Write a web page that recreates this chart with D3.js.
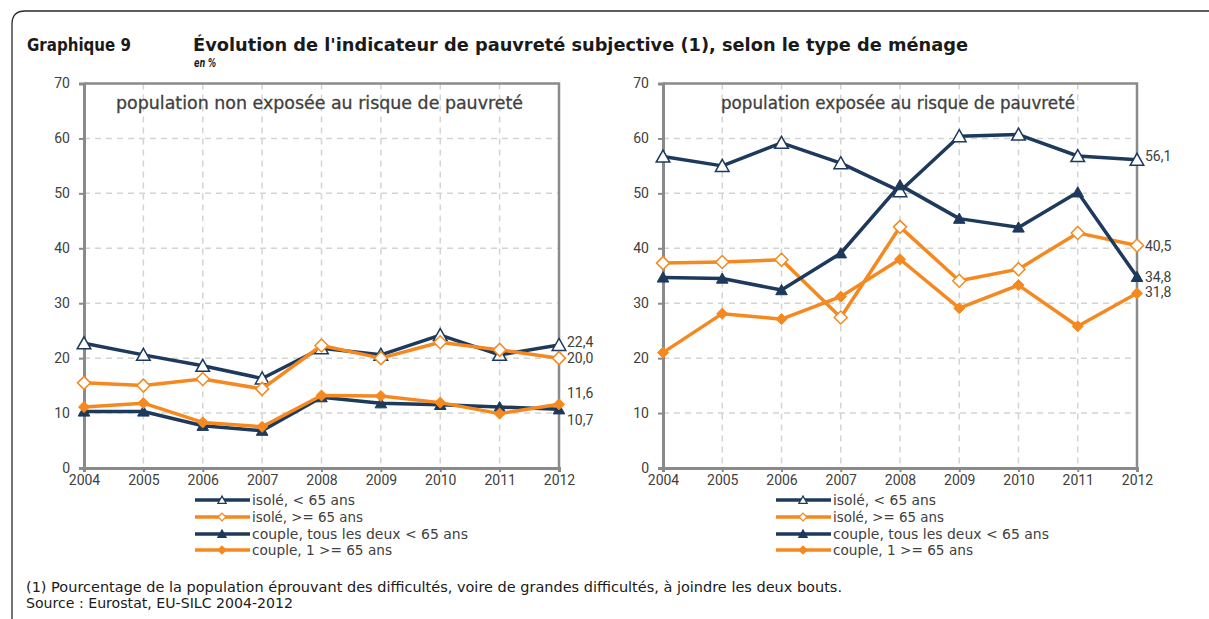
<!DOCTYPE html>
<html>
<head>
<meta charset="utf-8">
<script src="https://cdn.jsdelivr.net/npm/d3@7"></script>
<style>
  body { margin: 0; background: #fff; }
  svg { display: block; }
</style>
</head>
<body>
<svg id="chart"></svg>
<script>
// data
var years = [2004, 2005, 2006, 2007, 2008, 2009, 2010, 2011, 2012];
var seriesNames = ["isolé, < 65 ans", "isolé, >= 65 ans", "couple, tous les deux < 65 ans", "couple, 1 >= 65 ans"];
var yTicks = [0, 10, 20, 30, 40, 50, 60, 70];

var nonExposeIsoleJeune  = [22.7, 20.6, 18.6, 16.3, 21.8, 20.6, 24.2, 20.6, 22.4];
var nonExposeIsoleAge    = [15.5, 15.0, 16.2, 14.4, 22.3, 20.0, 22.9, 21.5, 20.0];
var nonExposeCoupleJeune = [10.3, 10.3, 7.7, 6.8, 12.9, 11.8, 11.5, 11.1, 10.7];
var nonExposeCoupleAge   = [11.1, 11.8, 8.3, 7.5, 13.2, 13.1, 11.9, 9.9, 11.6];

var exposeIsoleJeune  = [56.7, 55.0, 59.2, 55.5, 50.4, 60.4, 60.7, 56.8, 56.1];
var exposeIsoleAge    = [37.3, 37.5, 37.9, 27.4, 43.9, 34.1, 36.2, 42.8, 40.5];
var exposeCoupleJeune = [34.7, 34.5, 32.4, 39.1, 51.5, 45.4, 43.8, 50.2, 34.8];
var exposeCoupleAge   = [21.0, 28.1, 27.1, 31.2, 38.0, 29.1, 33.3, 25.8, 31.8];

var width = 1209, height = 619;
var navy = "#1d3a5c", orange = "#f5891f", textCol = "#404040";
var tickFont = "Roboto, 'Liberation Sans', sans-serif";
var textFont = "'DejaVu Sans', 'Noto Sans', sans-serif";

var svg = d3.select("#chart").attr("width", width).attr("height", height);

// give a text the width it has in the picture
function spanTo(sel, w) {
    sel.attr("textLength", w).attr("lengthAdjust", "spacingAndGlyphs");
}

// outer frame with rounded corner
svg.append("path")
    .attr("d", "M12,620 L12,24 Q12,11 25,11 L1210,11")
    .attr("fill", "none")
    .attr("stroke", "#2a2a2a")
    .attr("stroke-width", 1.3);

var t1 = svg.append("text").attr("x", 27).attr("y", 51)
    .attr("font-family", textFont).attr("font-weight", "bold")
    .attr("font-size", 17.5).attr("fill", "#1a1a1a")
    .text("Graphique 9");
spanTo(t1, 104);
var t2 = svg.append("text").attr("x", 193).attr("y", 51)
    .attr("font-family", textFont).attr("font-weight", "bold")
    .attr("font-size", 17.5).attr("fill", "#1a1a1a")
    .text("Évolution de l'indicateur de pauvreté subjective (1), selon le type de ménage");
spanTo(t2, 775);
var t3 = svg.append("text").attr("x", 194).attr("y", 67)
    .attr("font-family", textFont).attr("font-weight", "bold").attr("font-style", "italic")
    .attr("font-size", 12.5).attr("fill", "#1a1a1a")
    .text("en %");
spanTo(t3, 22);

// markers, centred on their box like the spreadsheet ones
function markerPath(kind, s) {
    if (kind == "tri") {
        return "M0," + (-6.5 * s) + "L" + (6.8 * s) + "," + (5.5 * s) + "L" + (-6.8 * s) + "," + (5.5 * s) + "Z";
    }
    var r = 6.5 * s;
    return "M0," + (-r) + "L" + r + ",0L0," + r + "L" + (-r) + ",0Z";
}
var styles = [
    {color: navy, kind: "tri", open: true},
    {color: orange, kind: "dia", open: true},
    {color: navy, kind: "tri", open: false},
    {color: orange, kind: "dia", open: false}
];

function drawPanel(x0, x1, title, titleW, series, labelDy, legendX) {
    var x = d3.scalePoint().domain(years).range([x0, x1]);
    var y = d3.scaleLinear().domain([0, 70]).range([468, 83.5]);

    var g = svg.append("g");

    // dashed grid
    g.selectAll(".hgrid").data(yTicks.slice(1, -1)).enter().append("line")
        .attr("x1", x0).attr("x2", x1)
        .attr("y1", function(d) { return y(d); }).attr("y2", function(d) { return y(d); })
        .attr("stroke", "#d4d4d4").attr("stroke-width", 1.5).attr("stroke-dasharray", "6,5");
    g.selectAll(".vgrid").data(years.slice(1, -1)).enter().append("line")
        .attr("x1", function(d) { return x(d); }).attr("x2", function(d) { return x(d); })
        .attr("y1", y(70)).attr("y2", y(0))
        .attr("stroke", "#d4d4d4").attr("stroke-width", 1.5).attr("stroke-dasharray", "6,5");

    // top and right border of plot
    g.append("path")
        .attr("d", "M" + x0 + "," + y(70) + "L" + x1 + "," + y(70) + "L" + x1 + "," + y(0))
        .attr("fill", "none").attr("stroke", "#8a8a8a").attr("stroke-width", 2.5);

    var yAxis = g.append("g")
        .attr("transform", "translate(" + x0 + ",0)")
        .call(d3.axisLeft(y).tickValues(yTicks).tickSize(5).tickPadding(9));
    var xAxis = g.append("g")
        .attr("transform", "translate(0," + y(0) + ")")
        .call(d3.axisBottom(x).tickSize(4).tickPadding(3));
    [xAxis, yAxis].forEach(function(a) {
        a.select(".domain").attr("stroke", "#8a8a8a").attr("stroke-width", 3);
        a.selectAll(".tick line").attr("stroke", "#8a8a8a").attr("stroke-width", 2);
        a.selectAll(".tick text").attr("fill", textCol)
            .attr("font-family", tickFont).attr("font-size", 14);
    });

    var pt = g.append("text").attr("x", (x0 + x1) / 2 - 2).attr("y", 109)
        .attr("text-anchor", "middle")
        .attr("font-family", textFont)
        .attr("font-size", 17).attr("fill", textCol)
        .attr("stroke", textCol).attr("stroke-width", 0.3)
        .text(title);
    spanTo(pt, titleW);

    var line = d3.line()
        .x(function(d, i) { return x(years[i]); })
        .y(function(d) { return y(d); });

    series.forEach(function(values, k) {
        var st = styles[k];
        g.append("path")
            .datum(values)
            .attr("fill", "none")
            .attr("stroke", st.color)
            .attr("stroke-width", 3.5)
            .attr("stroke-linejoin", "round")
            .attr("d", line);
        g.selectAll(".m" + k).data(values).enter().append("path")
            .attr("transform", function(d, i) { return "translate(" + x(years[i]) + "," + y(d) + ")"; })
            .attr("d", markerPath(st.kind, st.open ? 1 : 0.85))
            .attr("fill", st.open ? "#fff" : st.color)
            .attr("stroke", st.color)
            .attr("stroke-width", st.open ? 1.5 : 1);
        var last = values[values.length - 1];
        g.append("text")
            .attr("x", x1 + 8)
            .attr("y", y(last) + labelDy[k])
            .attr("font-family", tickFont).attr("font-size", 14).attr("fill", textCol)
            .text(d3.format(".1f")(last).replace(".", ","));
    });

    // legend
    var rowY = [500, 517, 534, 550];
    var legW = [103, 111, 216, 140];
    seriesNames.forEach(function(name, k) {
        var st = styles[k];
        var lg = g.append("g").attr("transform", "translate(" + legendX + "," + rowY[k] + ")");
        lg.append("line").attr("x1", 0).attr("x2", 55)
            .attr("stroke", st.color).attr("stroke-width", 3.5);
        lg.append("path").attr("transform", "translate(27,0)")
            .attr("d", markerPath(st.kind, 0.6))
            .attr("fill", st.open ? "#fff" : st.color)
            .attr("stroke", st.color).attr("stroke-width", 1.3);
        var lt = lg.append("text").attr("x", 57).attr("y", 5)
            .attr("font-family", textFont).attr("font-size", 14).attr("fill", textCol)
            .text(name);
        spanTo(lt, legW[k]);
    });
}

drawPanel(84, 559, "population non exposée au risque de pauvreté", 407,
    [nonExposeIsoleJeune, nonExposeIsoleAge, nonExposeCoupleJeune, nonExposeCoupleAge],
    [2, 5, 16, -6], 195);
drawPanel(663, 1137, "population exposée au risque de pauvreté", 354,
    [exposeIsoleJeune, exposeIsoleAge, exposeCoupleJeune, exposeCoupleAge],
    [1, 5, 5, 4], 776);

var f1 = svg.append("text").attr("x", 26).attr("y", 592)
    .attr("font-family", textFont).attr("font-size", 13.5).attr("fill", "#1a1a1a")
    .text("(1) Pourcentage de la population éprouvant des difficultés, voire de grandes difficultés, à joindre les deux bouts.");
spanTo(f1, 816);
var f2 = svg.append("text").attr("x", 26).attr("y", 608)
    .attr("font-family", textFont).attr("font-size", 13.5).attr("fill", "#1a1a1a")
    .text("Source : Eurostat, EU-SILC 2004-2012");
spanTo(f2, 267);
</script>
</body>
</html>
